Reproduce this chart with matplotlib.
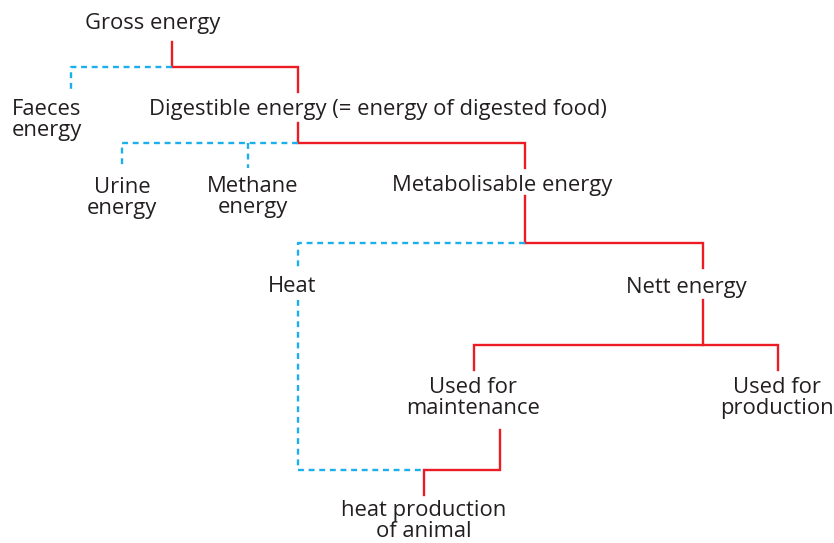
import matplotlib
matplotlib.use("Agg")
import matplotlib.pyplot as plt

# node labels and their centre positions (pixels, y downwards)
labels = ["Gross energy", "Faeces\nenergy", "Digestible energy (= energy of digested food)",
          "Urine\nenergy", "Methane\nenergy", "Metabolisable energy", "Heat", "Nett energy",
          "Used for\nmaintenance", "Used for\nproduction", "heat production\nof animal"]
label_x = [153, 12, 378, 122, 253, 502, 292, 686, 473, 777, 424]
label_y = [24, 120, 110, 198, 197, 185, 287, 287, 398, 398, 521]
label_ha = ["center", "left", "center", "center", "center", "center", "center",
            "center", "center", "center", "center"]

# energy flow (red) and losses (blue dotted)
red_paths = [
    [(172, 42), (172, 67), (298, 67), (298, 92)],
    [(298, 123), (298, 143), (525, 143), (525, 168)],
    [(525, 196), (525, 243), (703, 243), (703, 268)],
    [(703, 300), (703, 345)],
    [(474, 370), (474, 345), (778, 345), (778, 370)],
    [(500, 430), (500, 470), (424, 470), (424, 495)],
]
blue_paths = [
    [(172, 67), (71, 67), (71, 92)],
    [(298, 143), (122, 143), (122, 168)],
    [(248, 143), (248, 168)],
    [(525, 243), (298, 243), (298, 268)],
    [(298, 300), (298, 470), (424, 470)],
]

red = "#ED1C24"
blue = "#1BB0EC"

fig = plt.figure(figsize=(8.34, 5.43), dpi=100)
ax = fig.add_axes([0, 0, 1, 1])
ax.set_xlim(0, 834)
ax.set_ylim(543, 0)
ax.axis("off")

for p in red_paths:
    xs, ys = zip(*p)
    ax.plot(xs, ys, color=red, lw=1.7, solid_joinstyle="miter")
for p in blue_paths:
    xs, ys = zip(*p)
    ax.plot(xs, ys, color=blue, lw=1.7, linestyle=(0, (2.5, 2)))

for t, x, y, ha in zip(labels, label_x, label_y, label_ha):
    ax.text(x, y, t, ha=ha, va="center", ma=ha, fontsize=15.8, family="Open Sans",
            color="#231F20", linespacing=0.98)

fig.savefig("out.png", dpi=100)
